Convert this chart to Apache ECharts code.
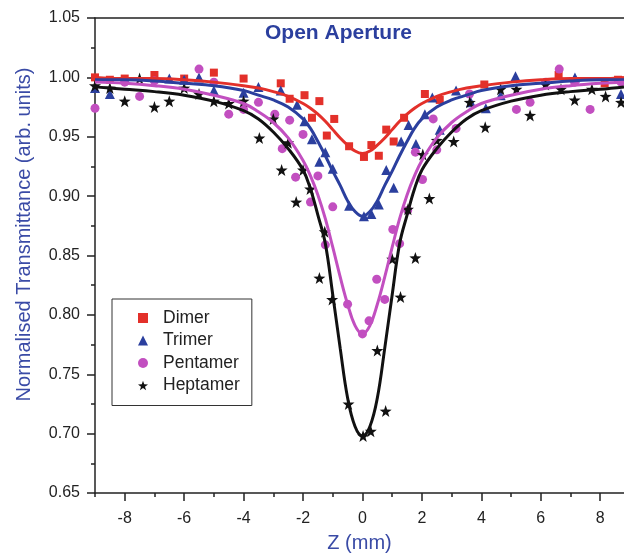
<!DOCTYPE html>
<html>
<head>
<meta charset="utf-8">
<script src="https://cdn.jsdelivr.net/npm/echarts@6/dist/echarts.min.js"></script>
<style>
  html, body { margin: 0; padding: 0; background: #fff; }
  #chart { width: 624px; height: 558px; }
</style>
</head>
<body>
<div id="chart"></div>
<script>
// measured points [z (mm), normalised transmittance]
const dimerPts = [[-9.0, 1.000], [-8.5, 0.998], [-8.0, 0.999], [-7.0, 1.002], [-6.0, 0.999], [-5.0, 1.004],
    [-4.0, 0.999], [-2.75, 0.995], [-2.45, 0.982], [-1.95, 0.985], [-1.45, 0.980], [-1.7, 0.966],
    [-0.95, 0.965], [-1.2, 0.951], [-0.45, 0.942], [0.05, 0.933], [0.3, 0.943], [0.55, 0.934],
    [0.8, 0.956], [1.05, 0.946], [1.4, 0.966], [2.1, 0.986], [2.6, 0.981], [4.1, 0.994],
    [6.6, 1.002], [8.15, 0.995], [8.6, 0.998]];
const trimerPts = [[-9.0, 0.991], [-8.5, 0.986], [-6.5, 0.999], [-6.0, 0.998], [-5.5, 1.000], [-5.0, 0.989],
    [-4.0, 0.987], [-3.5, 0.992], [-2.75, 0.989], [-2.2, 0.977], [-1.95, 0.963], [-1.7, 0.948],
    [-1.25, 0.937], [-1.45, 0.929], [-1.0, 0.923], [-0.45, 0.892], [0.05, 0.883], [0.3, 0.885],
    [0.55, 0.893], [0.8, 0.922], [1.05, 0.907], [1.3, 0.946], [1.55, 0.960], [1.8, 0.944],
    [2.1, 0.969], [2.35, 0.983], [2.6, 0.956], [3.15, 0.989], [3.65, 0.979], [4.15, 0.974],
    [4.65, 0.985], [5.15, 1.001], [7.15, 1.000], [8.7, 0.986]];
const pentamerPts = [[-9.0, 0.974], [-8.0, 0.996], [-7.5, 0.984], [-7.0, 0.997], [-5.5, 1.007], [-5.0, 0.996],
    [-4.5, 0.969], [-4.0, 0.973], [-3.5, 0.979], [-2.95, 0.969], [-2.45, 0.964], [-2.7, 0.940],
    [-2.0, 0.952], [-2.25, 0.916], [-1.5, 0.917], [-1.75, 0.895], [-1.0, 0.891], [-1.25, 0.859],
    [-0.5, 0.809], [0.0, 0.784], [0.22, 0.795], [0.48, 0.830], [0.75, 0.813], [1.02, 0.872],
    [1.25, 0.860], [1.52, 0.888], [1.78, 0.937], [2.02, 0.914], [2.5, 0.939], [2.38, 0.965],
    [3.15, 0.957], [3.6, 0.986], [5.18, 0.973], [5.64, 0.979], [6.16, 0.996], [6.62, 1.007],
    [7.14, 0.996], [7.66, 0.973], [8.7, 0.996]];
const heptamerPts = [[-9.0, 0.993], [-8.5, 0.991], [-8.0, 0.980], [-7.5, 0.999], [-7.0, 0.975], [-6.5, 0.980],
    [-6.0, 0.991], [-5.5, 0.986], [-5.0, 0.980], [-4.5, 0.978], [-4.0, 0.980], [-3.47, 0.949],
    [-3.0, 0.965], [-2.5, 0.945], [-2.72, 0.922], [-2.0, 0.922], [-2.23, 0.895], [-1.76, 0.906],
    [-1.27, 0.870], [-1.45, 0.831], [-1.02, 0.813], [-0.47, 0.725], [0.02, 0.698], [0.28, 0.702],
    [0.5, 0.770], [0.78, 0.719], [1.0, 0.847], [1.28, 0.815], [1.53, 0.889], [1.78, 0.848],
    [2.03, 0.935], [2.25, 0.898], [2.5, 0.947], [3.07, 0.946], [3.61, 0.979], [4.13, 0.958],
    [4.65, 0.990], [5.18, 0.990], [5.64, 0.968], [6.16, 0.994], [6.68, 0.990], [7.14, 0.981],
    [7.72, 0.990], [8.18, 0.984], [8.7, 0.979]];

// fitted curves
const fitZ = [-9, -8, -7, -6, -5, -4, -3.5, -3, -2.5, -2, -1.75, -1.5, -1.25, -1, -0.75, -0.5, -0.25, 0,
    0.25, 0.5, 0.75, 1, 1.25, 1.5, 1.75, 2, 2.5, 3, 3.5, 4, 5, 6, 7, 8, 8.8];
const dimerFit = [1.000, 0.999, 0.999, 0.998, 0.996, 0.993, 0.991, 0.988, 0.984, 0.978, 0.974, 0.969, 0.963, 0.956, 0.949, 0.943, 0.938, 0.936,
    0.938, 0.943, 0.949, 0.956, 0.963, 0.969, 0.974, 0.978, 0.984, 0.988, 0.991, 0.993, 0.996, 0.998, 0.999, 0.999, 1.000];
const trimerFit = [0.998, 0.998, 0.997, 0.995, 0.993, 0.989, 0.985, 0.981, 0.975, 0.965, 0.957, 0.946, 0.934, 0.921, 0.909, 0.896, 0.887, 0.883,
    0.887, 0.896, 0.909, 0.921, 0.934, 0.946, 0.957, 0.965, 0.975, 0.981, 0.985, 0.989, 0.993, 0.995, 0.997, 0.998, 0.998];
const pentamerFit = [0.996, 0.995, 0.993, 0.990, 0.985, 0.978, 0.971, 0.962, 0.949, 0.930, 0.917, 0.901, 0.881, 0.857, 0.832, 0.809, 0.791, 0.784,
    0.791, 0.809, 0.832, 0.857, 0.881, 0.901, 0.917, 0.930, 0.949, 0.962, 0.971, 0.978, 0.985, 0.990, 0.993, 0.995, 0.996];
const heptamerFit = [0.992, 0.990, 0.988, 0.985, 0.980, 0.972, 0.965, 0.954, 0.940, 0.922, 0.906, 0.884, 0.860, 0.817, 0.772, 0.730, 0.706, 0.698,
    0.706, 0.730, 0.772, 0.817, 0.860, 0.884, 0.906, 0.922, 0.940, 0.954, 0.965, 0.972, 0.980, 0.985, 0.988, 0.990, 0.992];

const majorX = [-8, -6, -4, -2, 0, 2, 4, 6, 8];
const minorX = [-9, -7, -5, -3, -1, 1, 3, 5, 7];

const FONT = 'Liberation Sans, Arial, Helvetica, sans-serif';
const AXIS = '#222';
const STAR = 'path://M0,-10L2.35,-3.24L9.51,-3.09L3.8,1.24L5.88,8.09L0,4L-5.88,8.09L-3.8,1.24L-9.51,-3.09L-2.35,-3.24Z';

function fit(values) {
    return fitZ.map(function (z, i) { return [z, values[i]]; });
}

const chart = echarts.init(document.getElementById('chart'), null, {renderer: 'canvas'});

chart.setOption({
    animation: false,
    backgroundColor: '#fff',
    title: {
        text: 'Open Aperture',
        left: 265,
        top: 23,
        padding: 0,
        textStyle: {fontFamily: FONT, fontSize: 21, fontWeight: 'bold', color: '#2b3f9e'}
    },
    legend: {
        data: ['Dimer', 'Trimer', 'Pentamer', 'Heptamer'],
        orient: 'vertical',
        left: 112,
        top: 299,
        itemWidth: 10,
        itemHeight: 10,
        itemGap: 4.5,
        padding: [10, 12, 11, 26],
        borderColor: '#333',
        borderWidth: 1,
        backgroundColor: '#fff',
        textStyle: {fontFamily: FONT, fontSize: 17.5, color: '#222', padding: [0, 0, 0, 10]}
    },
    grid: {left: 95, right: 0, top: 18, bottom: 61},
    xAxis: [{
        type: 'value',
        min: -9,
        max: 8.8,
        position: 'bottom',
        axisLine: {onZero: false, lineStyle: {color: AXIS, width: 1.5}},
        axisTick: {customValues: majorX, length: 8, lineStyle: {color: AXIS, width: 1.5}},
        axisLabel: {customValues: majorX, margin: 18, fontFamily: FONT, fontSize: 16, color: AXIS},
        splitLine: {show: false},
        name: 'Z (mm)',
        nameLocation: 'middle',
        nameGap: 40,
        nameTextStyle: {fontFamily: FONT, fontSize: 20, color: '#3a4ba6'}
    }, {
        // odd-valued short ticks
        type: 'value',
        min: -9,
        max: 8.8,
        position: 'bottom',
        axisLine: {show: false, onZero: false},
        axisTick: {customValues: minorX, length: 4, lineStyle: {color: AXIS, width: 1.5}},
        axisLabel: {show: false},
        splitLine: {show: false}
    }, {
        // top frame line
        type: 'value',
        min: -9,
        max: 8.8,
        position: 'top',
        axisLine: {onZero: false, lineStyle: {color: AXIS, width: 1.5}},
        axisTick: {show: false},
        axisLabel: {show: false},
        splitLine: {show: false}
    }],
    yAxis: {
        type: 'value',
        min: 0.65,
        max: 1.05,
        interval: 0.05,
        axisLine: {show: true, onZero: false, lineStyle: {color: AXIS, width: 1.5}},
        axisTick: {length: 8, lineStyle: {color: AXIS, width: 1.5}},
        minorTick: {show: true, splitNumber: 2, length: 4, lineStyle: {color: AXIS, width: 1.5}},
        axisLabel: {
            margin: 15,
            fontFamily: FONT,
            fontSize: 16,
            color: AXIS,
            formatter: function (v) { return v.toFixed(2); }
        },
        splitLine: {show: false},
        name: 'Normalised Transmittance (arb. units)',
        nameLocation: 'middle',
        nameGap: 61,
        nameTextStyle: {fontFamily: FONT, fontSize: 20, color: '#3a4ba6', padding: [0, 0, 0, 42]}
    },
    series: [
        {name: 'Dimer', type: 'scatter', data: dimerPts, symbol: 'rect', symbolSize: 8, itemStyle: {color: '#e3302a', opacity: 1}},
        {name: 'Trimer', type: 'scatter', data: trimerPts, symbol: 'triangle', symbolSize: 10, itemStyle: {color: '#2b3f9e', opacity: 1}},
        {name: 'Pentamer', type: 'scatter', data: pentamerPts, symbol: 'circle', symbolSize: 9, itemStyle: {color: '#c24fc0', opacity: 1}},
        {name: 'Heptamer', type: 'scatter', data: heptamerPts, symbol: STAR, symbolSize: 12, itemStyle: {color: '#111', opacity: 1}},
        {name: 'Dimer fit', type: 'line', data: fit(dimerFit), smooth: 0.4, showSymbol: false, lineStyle: {color: '#e3302a', width: 3}},
        {name: 'Trimer fit', type: 'line', data: fit(trimerFit), smooth: 0.4, showSymbol: false, lineStyle: {color: '#2b3f9e', width: 3}},
        {name: 'Pentamer fit', type: 'line', data: fit(pentamerFit), smooth: 0.4, showSymbol: false, lineStyle: {color: '#c24fc0', width: 3}},
        {name: 'Heptamer fit', type: 'line', data: fit(heptamerFit), smooth: 0.4, showSymbol: false, lineStyle: {color: '#111', width: 3}}
    ]
});
</script>
</body>
</html>
